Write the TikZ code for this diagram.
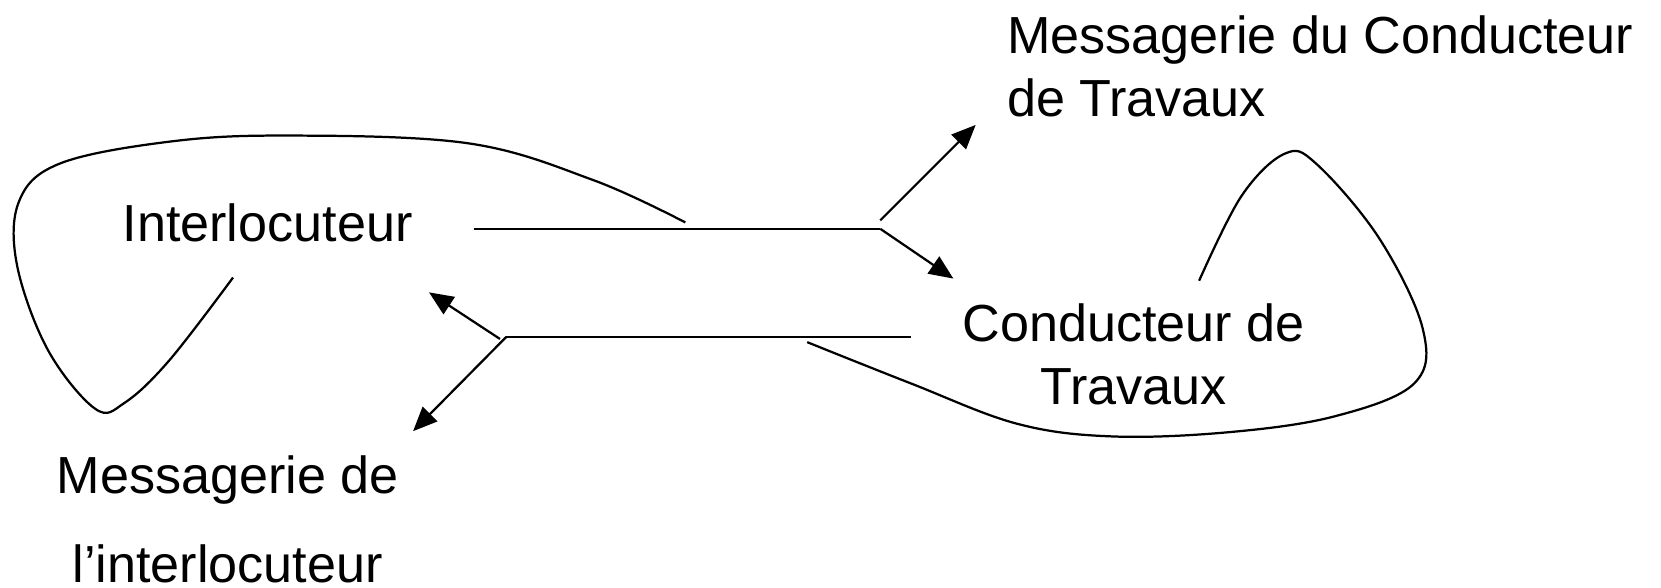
\documentclass[tikz,border=0pt]{standalone}
\usepackage{fontspec}
\setmainfont{Liberation Sans}
\usetikzlibrary{positioning,calc}
\usetikzlibrary{arrows.meta}

\begin{document}
\begin{tikzpicture}[x=0.01cm,y=-0.01cm,
      actor/.style = {inner sep=0pt, font=\fontsize{14}{17}\selectfont},
      link/.style = {line width=0.6pt},
      msg/.style = {line width=0.6pt, -{Triangle[length=6.5pt,width=5.5pt]}}
]
   \useasboundingbox (0,0) rectangle (1568,555);

   % the two speakers
   \node[actor, anchor=base west]              (inter) at (115,228) {Interlocuteur};
   \node[actor, anchor=base, align=center]     (cond)  at (1070,382) {Conducteur de\\Travaux};

   % mailboxes
   \node[actor, anchor=base west, align=left]  (mcond)  at (950,110) {Messagerie du Conducteur\\de Travaux};
   \node[actor, anchor=base, align=center]     (minter) at (215,550) {Messagerie de\\[7pt]l’interlocuteur};

   % upper line: Interlocuteur -> Conducteur
   \coordinate (a0) at (447,216);
   \coordinate (a1) at (831,216);
   \coordinate (a2) at (831,208);
   \coordinate[above right=0.9cm and 0.9cm of a2] (a3);
   \coordinate (a4) at (900,263);

   % lower line: Conducteur -> Interlocuteur
   \coordinate (b0) at (860,318);
   \coordinate (b1) at (478,318);
   \coordinate (b2) at (472,320);
   \coordinate (b3) at (405,276);
   \coordinate[below left=0.89cm and 0.88cm of b1] (b4);

   \draw[link] (a0) -- (a1);
   \draw[msg]  (a2) -- (a3);
   \draw[msg]  (a1) -- (a4);

   \draw[link] (b0) -- (b1);
   \draw[msg]  (b2) -- (b3);
   \draw[msg]  (b1) -- (b4);

   % loops
   \draw[link] plot[smooth, tension=0.6] coordinates {(220,262) (160,340) (118,380) (90,386)
      (45,330) (16,250) (18,190) (55,155) (150,135) (260,128) (440,135) (560,170) (647,210)};
   \draw[link] plot[smooth, tension=0.6] coordinates {(1132,265) (1172,185) (1213,145) (1243,155)
      (1302,225) (1343,310) (1335,362) (1260,393) (1160,408) (1050,412) (960,400) (860,362) (762,323)};
\end{tikzpicture}
\end{document}
